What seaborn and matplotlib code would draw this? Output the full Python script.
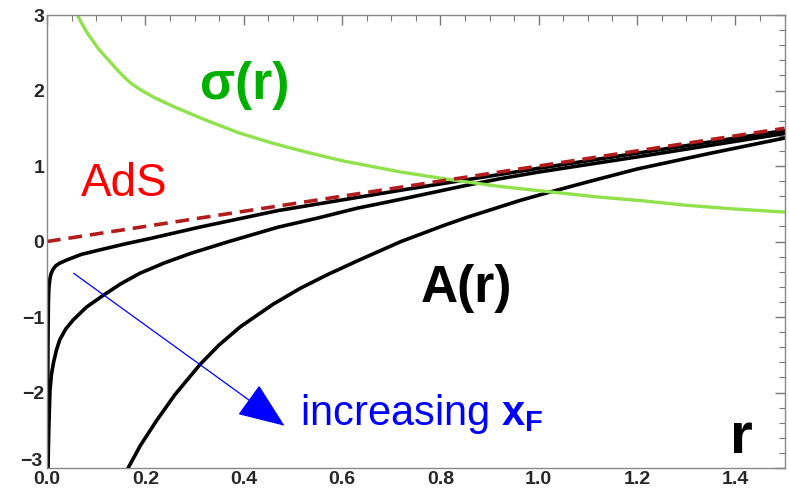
import matplotlib
matplotlib.use("Agg")
import matplotlib.pyplot as plt
from matplotlib.ticker import MultipleLocator
import seaborn as sns
import pandas as pd

# values
r_sigma = [0.062, 0.068, 0.075, 0.082, 0.094, 0.105, 0.12, 0.135, 0.155, 0.17,
           0.19, 0.22, 0.26, 0.30, 0.33, 0.39, 0.46, 0.53, 0.60, 0.72, 0.82,
           0.92, 1.02, 1.12, 1.21, 1.30, 1.40, 1.50]
sigma = [3.0, 2.92, 2.84, 2.76, 2.65, 2.55, 2.44, 2.33, 2.19, 2.10,
         2.01, 1.90, 1.78, 1.67, 1.59, 1.44, 1.30, 1.18, 1.07, 0.92, 0.82,
         0.73, 0.66, 0.59, 0.54, 0.48, 0.43, 0.39]

r_ads = [0.0, 1.5]
ads = [0.0, 1.5]

r_a1 = [0.001, 0.0013, 0.0016, 0.002, 0.0025, 0.003, 0.004, 0.006, 0.008, 0.012,
        0.018, 0.025, 0.04, 0.07, 0.108, 0.16, 0.21, 0.31, 0.47, 0.72, 1.0,
        1.25, 1.5]
a1 = [-3.0, -2.3, -1.75, -1.3, -0.95, -0.75, -0.6, -0.49, -0.43, -0.37,
      -0.32, -0.29, -0.245, -0.17, -0.11, -0.03, 0.04, 0.19, 0.41, 0.68, 0.97,
      1.22, 1.47]

r_a2 = [0.002, 0.003, 0.004, 0.006, 0.009, 0.013, 0.019, 0.026, 0.038, 0.053,
        0.08, 0.115, 0.15, 0.189, 0.24, 0.291, 0.37, 0.47, 0.55, 0.63, 0.72,
        0.85, 0.92, 1.0, 1.2, 1.5]
a2 = [-3.0, -2.65, -2.4, -1.97, -1.76, -1.61, -1.44, -1.30, -1.16, -1.04,
      -0.87, -0.71, -0.56, -0.42, -0.28, -0.16, 0.0, 0.19, 0.31, 0.44, 0.56,
      0.74, 0.83, 0.92, 1.12, 1.43]

r_a3 = [0.165, 0.19, 0.223, 0.26, 0.311, 0.35, 0.393, 0.46, 0.515, 0.57,
        0.63, 0.72, 0.81, 0.854, 0.96, 1.02, 1.1, 1.2, 1.35, 1.5]
a3 = [-3.0, -2.7, -2.37, -2.03, -1.63, -1.37, -1.13, -0.83, -0.62, -0.44,
      -0.26, 0.0, 0.22, 0.32, 0.54, 0.65, 0.79, 0.96, 1.17, 1.37]

y_ticks = [-3, -2, -1, 0, 1, 2, 3]

arrow_start = (0.054, -0.42)
arrow_end = (0.483, -2.44)

sns.set_theme(style="white")
plt.rcParams['font.family'] = ['Liberation Sans', 'DejaVu Sans']
plt.rcParams['mathtext.fontset'] = 'custom'
plt.rcParams['mathtext.rm'] = 'Liberation Sans'
plt.rcParams['mathtext.bf'] = 'Liberation Sans:bold'

fig = plt.figure(figsize=(7.89, 4.94), dpi=100)
ax = fig.add_axes([0.0596, 0.0526, 0.9347, 0.917])

for rr, aa in [(r_a1, a1), (r_a2, a2), (r_a3, a3)]:
    sns.lineplot(data=pd.DataFrame({'r': rr, 'A': aa}), x='r', y='A', ax=ax,
                 color='black', lw=2.6, estimator=None, sort=False)
sns.lineplot(data=pd.DataFrame({'r': r_sigma, 's': sigma}), x='r', y='s', ax=ax,
             color='#8fe24c', lw=2.4, estimator=None, sort=False)
sns.lineplot(data=pd.DataFrame({'r': r_ads, 'y': ads}), x='r', y='y', ax=ax,
             color='#b31c1c', lw=2.6, estimator=None, sort=False)
ax.lines[-1].set_dashes((3.8, 2.2))

ax.annotate('', xy=arrow_end, xytext=arrow_start,
            arrowprops=dict(arrowstyle='-|>,head_length=1.5,head_width=0.6',
                            color='blue', lw=0.9, mutation_scale=20,
                            shrinkA=0, shrinkB=0))

ax.text(0.403, 2.07, r'σ(r)', color='#00b000', fontsize=37, fontweight='bold',
        ha='center', va='center')
ax.text(0.157, 0.76, 'AdS', color='red', fontsize=33, ha='center', va='center')
ax.text(0.854, -0.62, 'A(r)', color='black', fontsize=37, fontweight='bold',
        ha='center', va='center')
ax.text(0.515, -2.43, r'increasing $\mathbf{x}_{\mathbf{F}}$', color='blue',
        fontsize=30, ha='left', va='baseline')
ax.text(1.413, -2.8, 'r', color='black', fontsize=42, fontweight='bold',
        ha='center', va='baseline')

ax.set_xlim(0, 1.5)
ax.set_ylim(-3, 3)
ax.set_xlabel('')
ax.set_ylabel('')
ax.xaxis.set_major_locator(MultipleLocator(0.2))
ax.xaxis.set_minor_locator(MultipleLocator(0.05))
ax.yaxis.set_minor_locator(MultipleLocator(0.2))
ax.set_xticklabels([f'{v:.1f}' for v in ax.get_xticks()])
ax.set_yticks(y_ticks)
# the lowest label is placed by hand, a little higher, so it clears the 0.0 label
ax.set_yticklabels(['' if v == y_ticks[0] else str(v).replace('-', '\u2212')
                    for v in y_ticks])
ax.annotate(str(y_ticks[0]).replace('-', '\u2212'), xy=(0, y_ticks[0]),
            xycoords=('axes fraction', 'data'), xytext=(-3.5, 5),
            textcoords='offset points', ha='right', va='center',
            fontsize=14, fontweight='bold', color='#262626')
ax.tick_params(which='both', direction='in', top=True, right=True, color='#777777',
               labelsize=14, pad=2)
ax.tick_params(which='major', length=7, width=1)
ax.tick_params(which='minor', length=4, width=0.8)
for lab in ax.get_xticklabels() + ax.get_yticklabels():
    lab.set_fontweight('bold')

for sp in ax.spines.values():
    sp.set_color('#888888')
    sp.set_linewidth(1)

fig.savefig('out.png', dpi=100)
